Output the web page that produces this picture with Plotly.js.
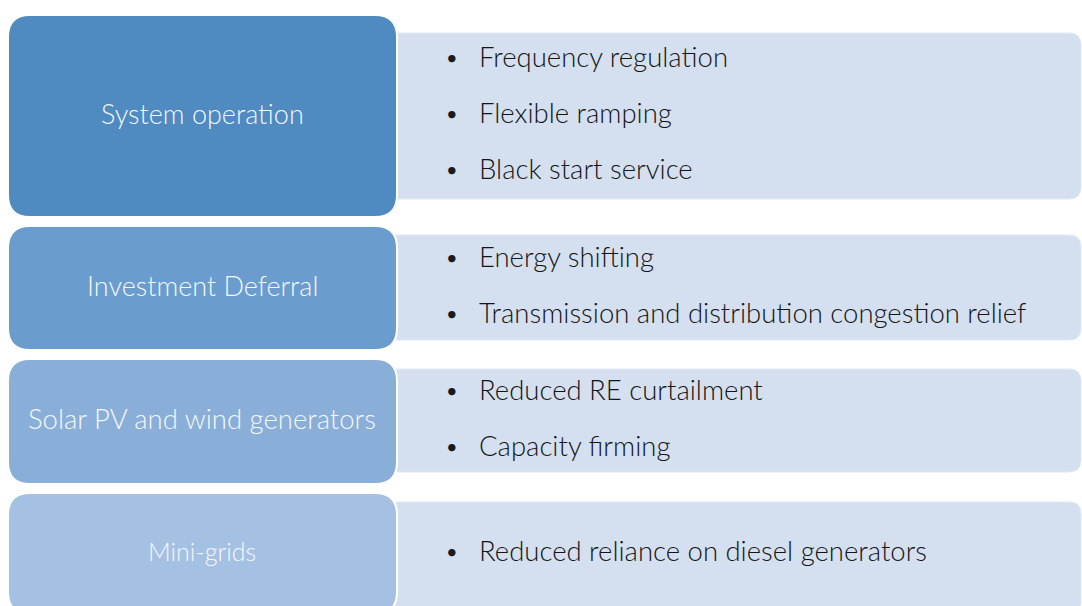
<!DOCTYPE html>
<html>
<head>
<meta charset="utf-8">
<script src="https://cdn.plot.ly/plotly-3.0.1.min.js"></script>
<style>html,body{margin:0;padding:0;background:#fff;}#chart{width:1082px;height:606px;}</style>
</head>
<body>
<div id="chart"></div>
<script>
// ---- data ----
const categories = ["System operation", "Investment Deferral", "Solar PV and wind generators", "Mini-grids"];
const items = [
  ["Frequency regulation", "Flexible ramping", "Black start service"],
  ["Energy shifting", "Transmission and distribution congestion relief"],
  ["Reduced RE curtailment", "Capacity firming"],
  ["Reduced reliance on diesel generators"]
];
const leftColors = ["#4f8ac0", "#6a9dcd", "#89aed7", "#a4c0e3"];
const rightColor = "#d4e0f0";

// ---- layout geometry (pixels) ----
const W = 1082, H = 606;
const leftBox = [[15, 217], [226, 350], [359, 484], [493, 614]];
const rightBox = [[33, 199], [235, 340], [369, 472], [502, 614]];
const itemY = [[56, 112, 168], [256, 312], [389, 445], [550]];
const leftSize = [27, 27, 27.5, 25];

function rr(x0, y0, x1, y1, r) {
  return `M${x0 + r},${y0} L${x1 - r},${y0} Q${x1},${y0} ${x1},${y0 + r} L${x1},${y1 - r} Q${x1},${y1} ${x1 - r},${y1} L${x0 + r},${y1} Q${x0},${y1} ${x0},${y1 - r} L${x0},${y0 + r} Q${x0},${y0} ${x0 + r},${y0} Z`;
}

const shapes = [];
const annotations = [];
categories.forEach((c, i) => {
  const [ry0, ry1] = rightBox[i];
  shapes.push({type: "path", xref: "x", yref: "y", path: rr(385, ry0, 1081, ry1, 12),
    fillcolor: rightColor, line: {color: "#dfe8f4", width: 1}, layer: "below"});
  const [ly0, ly1] = leftBox[i];
  shapes.push({type: "path", xref: "x", yref: "y", path: rr(8, ly0, 397, ly1, 22),
    fillcolor: leftColors[i], line: {color: "#ffffff", width: 2}, layer: "below"});
  const cy = i === 3 ? 551 : (ly0 + ly1) / 2 - 3;
  annotations.push({x: 202, y: cy, xref: "x", yref: "y", text: c, showarrow: false,
    xanchor: "center", yanchor: "middle",
    font: {family: "Lato, 'Open Sans', sans-serif", size: leftSize[i], color: "#f4f7fb", weight: 300}});
  items[i].forEach((t, j) => {
    annotations.push({x: 452, y: itemY[i][j] + 1, xref: "x", yref: "y", text: "•", showarrow: false,
      xanchor: "center", yanchor: "middle",
      font: {family: "Lato, sans-serif", size: 20, color: "#1a1a1a"}});
    annotations.push({x: 477, y: itemY[i][j], xref: "x", yref: "y", text: t, showarrow: false,
      xanchor: "left", yanchor: "middle",
      font: {family: "Lato, 'Noto Sans', sans-serif", size: 27.5, color: "#151515", weight: 300}});
  });
});

const layout = {
  width: W, height: H,
  margin: {l: 0, r: 0, t: 0, b: 0},
  paper_bgcolor: "#ffffff", plot_bgcolor: "#ffffff",
  xaxis: {range: [0, W], visible: false, fixedrange: true},
  yaxis: {range: [H, 0], visible: false, fixedrange: true},
  shapes: shapes, annotations: annotations, showlegend: false
};
Plotly.newPlot("chart", [], layout, {staticPlot: true, displayModeBar: false});
</script>
</body>
</html>
